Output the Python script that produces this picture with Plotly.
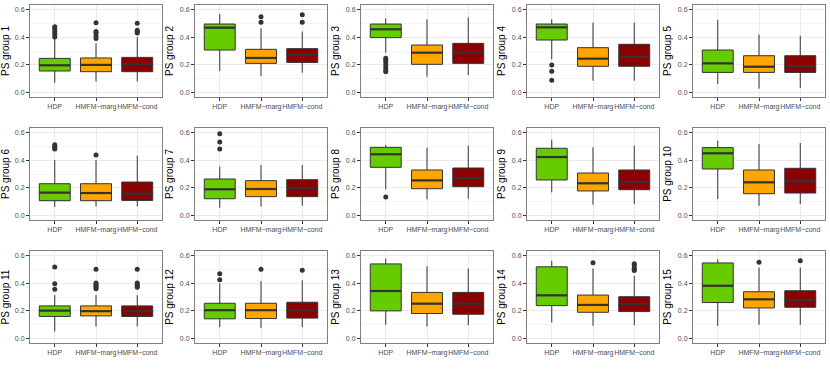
import plotly.graph_objects as go

# Данные: 15 групп × 3 метода (HDP, HMFM−marg, HMFM−cond)
methods = ["HDP", "HMFM\u2212marg", "HMFM\u2212cond"]
fills = ["#66CC00", "#FFA500", "#8B0000"]
panel_titles = [f"PS group {k}" for k in range(1, 16)]

q1 = [
    [0.156, 0.151, 0.151], [0.307, 0.211, 0.218], [0.396, 0.204, 0.211],
    [0.379, 0.190, 0.190], [0.146, 0.146, 0.146], [0.108, 0.108, 0.110],
    [0.122, 0.137, 0.137], [0.348, 0.194, 0.209], [0.257, 0.178, 0.187],
    [0.336, 0.158, 0.163], [0.160, 0.164, 0.160], [0.143, 0.145, 0.148],
    [0.200, 0.181, 0.176], [0.238, 0.190, 0.195], [0.260, 0.221, 0.226],
]
medians = [
    [0.197, 0.200, 0.206], [0.468, 0.250, 0.274], [0.456, 0.288, 0.290],
    [0.470, 0.245, 0.257], [0.211, 0.187, 0.190], [0.166, 0.163, 0.158],
    [0.190, 0.192, 0.200], [0.442, 0.254, 0.271], [0.422, 0.233, 0.242],
    [0.449, 0.240, 0.247], [0.202, 0.198, 0.198], [0.205, 0.205, 0.205],
    [0.343, 0.252, 0.252], [0.312, 0.243, 0.250], [0.381, 0.283, 0.279],
]
q3 = [
    [0.247, 0.250, 0.254], [0.494, 0.312, 0.317], [0.494, 0.343, 0.355],
    [0.494, 0.324, 0.348], [0.307, 0.266, 0.266], [0.230, 0.230, 0.242],
    [0.264, 0.252, 0.259], [0.492, 0.329, 0.343], [0.485, 0.307, 0.329],
    [0.490, 0.329, 0.341], [0.236, 0.236, 0.236], [0.255, 0.255, 0.262],
    [0.538, 0.333, 0.333], [0.517, 0.314, 0.302], [0.545, 0.338, 0.345],
]
lower = [
    [0.072, 0.080, 0.080], [0.156, 0.120, 0.144], [0.288, 0.115, 0.127],
    [0.240, 0.086, 0.086], [0.062, 0.029, 0.034], [0.062, 0.067, 0.067],
    [0.058, 0.067, 0.072], [0.190, 0.118, 0.122], [0.168, 0.079, 0.084],
    [0.120, 0.072, 0.084], [0.052, 0.088, 0.088], [0.083, 0.076, 0.083],
    [0.100, 0.088, 0.098], [0.117, 0.093, 0.098], [0.093, 0.100, 0.100],
]
upper = [
    [0.386, 0.355, 0.400], [0.566, 0.463, 0.440], [0.535, 0.528, 0.542],
    [0.528, 0.504, 0.504], [0.523, 0.418, 0.410], [0.400, 0.400, 0.432],
    [0.353, 0.365, 0.365], [0.509, 0.490, 0.504], [0.547, 0.492, 0.504],
    [0.540, 0.516, 0.523], [0.314, 0.314, 0.314], [0.398, 0.414, 0.420],
    [0.576, 0.521, 0.505], [0.560, 0.505, 0.452], [0.571, 0.512, 0.512],
]
outliers = [
    [[0.40, 0.42, 0.44, 0.46, 0.475], [0.39, 0.41, 0.43, 0.44, 0.504], [0.43, 0.44, 0.45, 0.50]],
    [[], [0.506, 0.547], [0.506, 0.560]],
    [[0.15, 0.16, 0.18, 0.20, 0.22, 0.235, 0.247], [], []],
    [[0.09, 0.155, 0.20], [], []],
    [[], [], []],
    [[0.48, 0.49, 0.50, 0.51], [0.437], []],
    [[0.48, 0.53, 0.59], [], []],
    [[0.134], [], []],
    [[], [], []],
    [[], [], []],
    [[0.355, 0.395, 0.515], [0.36, 0.37, 0.38, 0.39, 0.40, 0.50], [0.37, 0.38, 0.39, 0.40, 0.50]],
    [[0.425, 0.467], [0.50], [0.493]],
    [[], [], []],
    [[], [0.547], [0.49, 0.50, 0.51, 0.53, 0.54]],
    [[], [0.55], [0.56]],
]
y_ticks = [0.0, 0.2, 0.4, 0.6]
y_tick_labels = ["0.0", "0.2", "0.4", "0.6"]

W, H = 830, 369
col_x = [30, 195, 361, 527, 693]
row_y = [5, 128, 251]
pw, ph = 132, 92
box_w = 0.75
line_c = "#333333"

fig = go.Figure()
layout = {}

for p in range(15):
    r, c = divmod(p, 5)
    ax = "" if p == 0 else str(p + 1)
    xref, yref = f"x{ax}", f"y{ax}"
    for i in range(3):
        fig.add_trace(go.Box(
            x=[i], q1=[q1[p][i]], median=[medians[p][i]], q3=[q3[p][i]],
            lowerfence=[lower[p][i]], upperfence=[upper[p][i]],
            width=box_w, whiskerwidth=0, boxpoints=False,
            fillcolor=fills[i], line=dict(color=line_c, width=1),
            xaxis=xref, yaxis=yref, showlegend=False, hoverinfo="skip",
        ))
        # жирная медиана, как в ggplot
        fig.add_trace(go.Scatter(
            x=[i - box_w / 2, i + box_w / 2], y=[medians[p][i]] * 2,
            mode="lines", line=dict(color=line_c, width=2.2),
            xaxis=xref, yaxis=yref, showlegend=False, hoverinfo="skip",
        ))
        if outliers[p][i]:
            fig.add_trace(go.Scatter(
                x=[i] * len(outliers[p][i]), y=outliers[p][i],
                mode="markers", marker=dict(color=line_c, size=5),
                xaxis=xref, yaxis=yref, showlegend=False, hoverinfo="skip",
            ))

    x0, y0 = col_x[c], row_y[r]
    common = dict(
        showline=True, mirror=True, linecolor="#7F7F7F", linewidth=1,
        ticks="outside", ticklen=3, tickcolor="#333333", tickangle=0,
        tickfont=dict(size=7, color="#4D4D4D"),
        gridcolor="#EBEBEB", gridwidth=1, zeroline=False,
    )
    layout[f"xaxis{ax}"] = dict(
        domain=[x0 / W, (x0 + pw) / W], anchor=yref,
        range=[-0.6, 2.6], tickvals=[0, 1, 2], ticktext=methods, **common,
    )
    layout[f"yaxis{ax}"] = dict(
        domain=[1 - (y0 + ph) / H, 1 - y0 / H], anchor=xref,
        range=[-0.031, 0.631], tickvals=y_ticks, ticktext=y_tick_labels,
        minor=dict(dtick=0.1, tick0=0.1, showgrid=True, gridcolor="#F5F5F5", ticks=""),
        title=dict(text=panel_titles[p], font=dict(size=10, color="#000000"), standoff=4),
        **common,
    )

fig.update_layout(
    **layout,
    width=W, height=H,
    margin=dict(l=0, r=0, t=0, b=0),
    paper_bgcolor="white", plot_bgcolor="white",
    font=dict(family="Liberation Sans, Arial, sans-serif"),
    boxmode="overlay",
)

# убираем стандартный отступ body, чтобы фигура легла ровно в окно
fig.write_html(
    "out.html",
    config={"displayModeBar": False},
    post_script="document.body.style.margin='0';",
)
